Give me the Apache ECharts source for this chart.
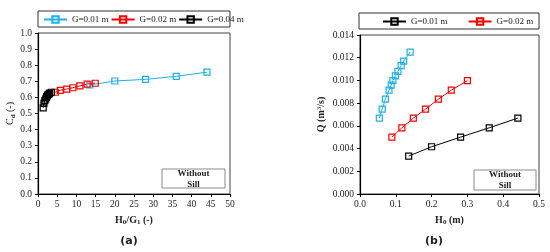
<!DOCTYPE html>
<html>
<head>
<meta charset="utf-8">
<script src="https://cdn.jsdelivr.net/npm/echarts@6/dist/echarts.min.js"></script>
<style>
  body { margin: 0; background: #fff; }
  #myChart { width: 550px; height: 252px; }
</style>
</head>
<body>
<div id="myChart"></div>
<script>
// (a) Cd against H0/G1
const ratioG01 = [13.5, 20, 28, 36, 44];
const cdG01 = [0.677, 0.702, 0.712, 0.731, 0.757];
const ratioG02 = [4.5, 5.8, 7.5, 9.1, 10.9, 12.8, 14.9];
const cdG02 = [0.632, 0.644, 0.652, 0.660, 0.671, 0.683, 0.688];
const ratioG04 = [1.35, 1.55, 1.78, 2.03, 2.18, 2.3, 2.48, 2.65, 2.88, 3.05, 3.5];
const cdG04 = [0.535, 0.563, 0.58, 0.59, 0.60, 0.605, 0.612, 0.618, 0.622, 0.627, 0.632];

// (b) Q against H0
const h0G01 = [0.136, 0.200, 0.281, 0.361, 0.441];
const qG01 = [0.00334, 0.00416, 0.00501, 0.00583, 0.00668];
const h0G02 = [0.089, 0.117, 0.149, 0.183, 0.219, 0.255, 0.300];
const qG02 = [0.00501, 0.00583, 0.00668, 0.00747, 0.00835, 0.00914, 0.00998];
const h0G04 = [0.054, 0.062, 0.071, 0.081, 0.087, 0.092, 0.099, 0.106, 0.115, 0.122, 0.140];
const qG04 = [0.00668, 0.00747, 0.00835, 0.00914, 0.00958, 0.00998, 0.0104, 0.0108, 0.0113, 0.0117, 0.0125];

const legendA = ['G=0.01 m', 'G=0.02 m', 'G=0.04 m'];
const legendB = ['G=0.01 m', 'G=0.02 m'];

let myChart = echarts.init(document.getElementById('myChart'));
const font = 'Liberation Serif';
const blue = '#19B2EA', red = '#FF0000', black = '#000000';

function zip(xs, ys) { return xs.map((x, i) => [x, ys[i]]); }

function mkSeries(id, xi, color, xs, ys) {
    return {
        name: id, type: 'line', xAxisIndex: xi, yAxisIndex: xi,
        data: zip(xs, ys),
        symbol: 'rect', symbolSize: 6,
        itemStyle: { color: 'rgba(255,255,255,0)', borderColor: color, borderWidth: 1.2 },
        lineStyle: { color: color, width: 1 },
        emphasis: { disabled: true },
        animation: false
    };
}

const labelMap = { a01: legendA[0], a02: legendA[1], a04: legendA[2], b01: legendB[0], b02: legendB[1] };

const richName = {
    t: { fontFamily: font, fontSize: 10, fontWeight: 'bold', color: '#222' },
    n: { fontFamily: font, fontSize: 10, color: '#222' },
    s: { fontFamily: font, fontSize: 7, fontWeight: 'bold', color: '#222', verticalAlign: 'bottom', padding: [4, 0, 0, 0] },
    sup: { fontFamily: font, fontSize: 7, color: '#222', verticalAlign: 'top', padding: [0, 0, 4, 0] }
};

function mainX(grid, min, max, interval, digits, name) {
    return {
        type: 'value', gridIndex: grid, min: min, max: max, interval: interval,
        axisLine: { show: true, lineStyle: { color: '#000', width: 1.2 } },
        axisTick: { show: true, length: 3, lineStyle: { color: '#000' } },
        axisLabel: { margin: 5, fontFamily: font, fontSize: 9.5, color: '#222', formatter: v => v.toFixed(digits) },
        splitLine: { show: false },
        name: name, nameLocation: 'middle', nameGap: 21,
        nameTextStyle: { fontFamily: font, fontSize: 10, fontWeight: 'bold', color: '#222', rich: richName }
    };
}
function mainY(grid, min, max, interval, digits, name, gap) {
    return {
        type: 'value', gridIndex: grid, min: min, max: max, interval: interval,
        axisLine: { show: true, lineStyle: { color: '#000', width: 1.2 } },
        axisTick: { show: true, length: 3, lineStyle: { color: '#000' } },
        axisLabel: { margin: 6, fontFamily: font, fontSize: 9.5, color: '#222', formatter: v => v.toFixed(digits) },
        splitLine: { show: false },
        name: name, nameLocation: 'middle', nameGap: gap, nameRotate: 90,
        nameTextStyle: { fontFamily: font, fontSize: 10, color: '#222', rich: richName }
    };
}
function innerAxis(grid, min, max, interval) {
    return {
        type: 'value', gridIndex: grid, min: min, max: max, interval: interval,
        axisLine: { show: false }, axisLabel: { show: false }, splitLine: { show: false },
        axisTick: { show: true, inside: true, length: 3, lineStyle: { color: '#000' } }
    };
}

function legendCfg(names, left, top, gap) {
    return {
        data: names, left: left, top: top, padding: 0, itemWidth: 23, itemHeight: 8, itemGap: gap,
        selectedMode: false,
        formatter: n => labelMap[n],
        textStyle: { fontFamily: font, fontSize: 9, color: '#222' }
    };
}

function boxText(x, y, w, h) {
    return [
        { type: 'rect', shape: { x: x, y: y, width: w, height: h }, style: { fill: '#fff', stroke: '#8a8a8a', lineWidth: 1 } },
        { type: 'text', x: x + w / 2, y: y + 5, style: { text: 'Without', fontFamily: font, fontSize: 9, fontWeight: 'bold', fill: '#222', textAlign: 'center', textVerticalAlign: 'middle' } },
        { type: 'text', x: x + w / 2, y: y + 16, style: { text: 'Sill', fontFamily: font, fontSize: 9, fontWeight: 'bold', fill: '#222', textAlign: 'center', textVerticalAlign: 'middle' } }
    ];
}

let option = {
    animation: false,
    grid: [
        { left: 38, top: 33, width: 192, height: 161, show: true, borderColor: '#444', borderWidth: 1 },
        { left: 360, top: 35, width: 179, height: 159, show: true, borderColor: '#444', borderWidth: 1 }
    ],
    legend: [
        legendCfg(['a01', 'a02', 'a04'], 43, 15, 2),
        legendCfg(['b01', 'b02'], 382, 17, 20)
    ],
    xAxis: [
        mainX(0, 0, 50, 5, 0, '{t|H}{s|0}{t|/G}{s|1}{t| (-)}'),
        mainX(1, 0, 0.5, 0.1, 1, '{t|H}{s|0}{t| (m)}'),
        innerAxis(0, 0, 50, 5),
        innerAxis(1, 0, 0.5, 0.1)
    ],
    yAxis: [
        mainY(0, 0, 1, 0.1, 1, '{n|C}{s|d}{n| (-)}', 19),
        mainY(1, 0, 0.014, 0.002, 3, '{t|Q (m}{sup|3}{t|/s)}', 33),
        innerAxis(0, 0, 1, 0.1),
        innerAxis(1, 0, 0.014, 0.002)
    ],
    series: [
        mkSeries('a01', 0, blue, ratioG01, cdG01),
        mkSeries('a02', 0, red, ratioG02, cdG02),
        mkSeries('a04', 0, black, ratioG04, cdG04),
        mkSeries('b04', 1, blue, h0G04, qG04),
        mkSeries('b02', 1, red, h0G02, qG02),
        mkSeries('b01', 1, black, h0G01, qG01)
    ],
    graphic: [
        { type: 'rect', shape: { x: 38, y: 11, width: 192, height: 16 }, style: { fill: 'none', stroke: '#333', lineWidth: 1 }, z: -1 },
        { type: 'rect', shape: { x: 359, y: 13, width: 180, height: 16 }, style: { fill: 'none', stroke: '#333', lineWidth: 1 }, z: -1 },
        ...boxText(162, 169, 63, 19),
        ...boxText(474, 170, 62, 20),
        { type: 'text', x: 129, y: 241, style: { text: '(a)', fontFamily: 'DejaVu Sans', fontSize: 11, fontWeight: 'bold', fill: '#222', textAlign: 'center', textVerticalAlign: 'middle' } },
        { type: 'text', x: 434, y: 241, style: { text: '(b)', fontFamily: 'DejaVu Sans', fontSize: 11, fontWeight: 'bold', fill: '#222', textAlign: 'center', textVerticalAlign: 'middle' } }
    ]
};
myChart.setOption(option);
</script>
</body>
</html>
